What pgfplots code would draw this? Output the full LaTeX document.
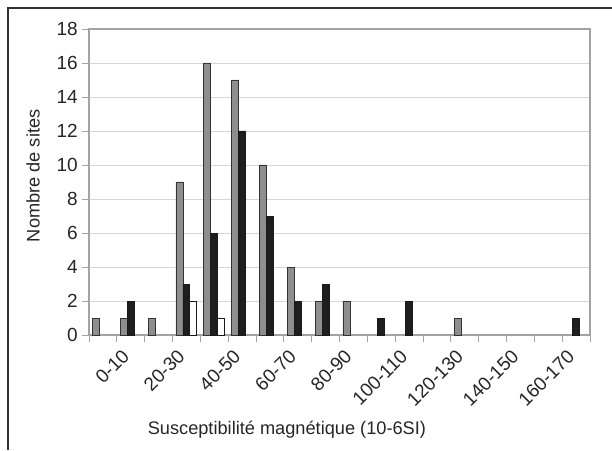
\documentclass[border=0pt]{standalone}
\usepackage{pgfplots}
\pgfplotsset{compat=1.18}
\usepackage{fontspec}
\setmainfont{Liberation Sans}
\definecolor{txt}{HTML}{262626}
\definecolor{axgrey}{HTML}{A0A4A8}
\definecolor{gridgrey}{HTML}{D6D6D6}
\definecolor{bargrey}{HTML}{8E8E8E}
\definecolor{barblack}{HTML}{1E1E1E}
\begin{document}
\begin{tikzpicture}[x=1pt,y=1pt]
\useasboundingbox (0,0) rectangle (612,450);
\draw[line width=1.3pt, black!80] (8,0) -- (8,442) -- (612,442);
\begin{axis}[
  at={(89pt,115pt)}, anchor=south west,
  scale only axis, width=501pt, height=306pt,
  xmin=-0.5, xmax=17.5, ymin=0, ymax=18,
  ytick={0,2,...,18},
  xtick={1,3,...,17},
  xticklabels={0-10,20-30,40-50,60-70,80-90,100-110,120-130,140-150,160-170},
  minor xtick={-0.5,0.5,...,17.5},
  xtick style={draw=none},
  minor x tick style={draw=axgrey, line width=0.9pt},
  ytick style={draw=axgrey, line width=0.9pt},
  tick align=outside,
  major tick length=7pt, minor tick length=7pt,
  tick pos=left,
  ymajorgrids,
  grid style={gridgrey, line width=0.9pt},
  axis line style={axgrey, line width=1.4pt},
  /pgf/number format/assume math mode=true,
  tick label style={font=\fontsize{19}{21}\selectfont, text=txt},
  xticklabel style={xshift=-5pt, yshift=-11pt, rotate=45, anchor=east, inner sep=0pt},
  yticklabel style={anchor=east, inner sep=0pt, xshift=-4pt},
  xlabel={Susceptibilité magnétique (10-6SI)},
  ylabel={Nombre de sites},
  label style={font=\fontsize{18.2}{20}\selectfont, text=txt},
  xlabel style={at={(axis description cs:0.395,0)}, anchor=center, yshift=-95pt},
  ylabel style={at={(axis description cs:0,0.52)}, anchor=center, yshift=56pt},
  ybar, bar width=0.25,
  clip=false,
]
\addplot[ybar, bar shift=-0.25, fill=bargrey, draw=black!80, line width=0.8pt]
  coordinates {(0,1) (1,1) (2,1) (3,9) (4,16) (5,15) (6,10) (7,4) (8,2) (9,2) (13,1)};
\addplot[ybar, bar shift=0, fill=barblack, draw=black!90, line width=0.8pt]
  coordinates {(1,2) (3,3) (4,6) (5,12) (6,7) (7,2) (8,3) (10,1) (11,2) (17,1)};
\addplot[ybar, bar shift=0.25, fill=white, draw=black!90, line width=0.8pt]
  coordinates {(3,2) (4,1)};
\end{axis}
\end{tikzpicture}
\end{document}
